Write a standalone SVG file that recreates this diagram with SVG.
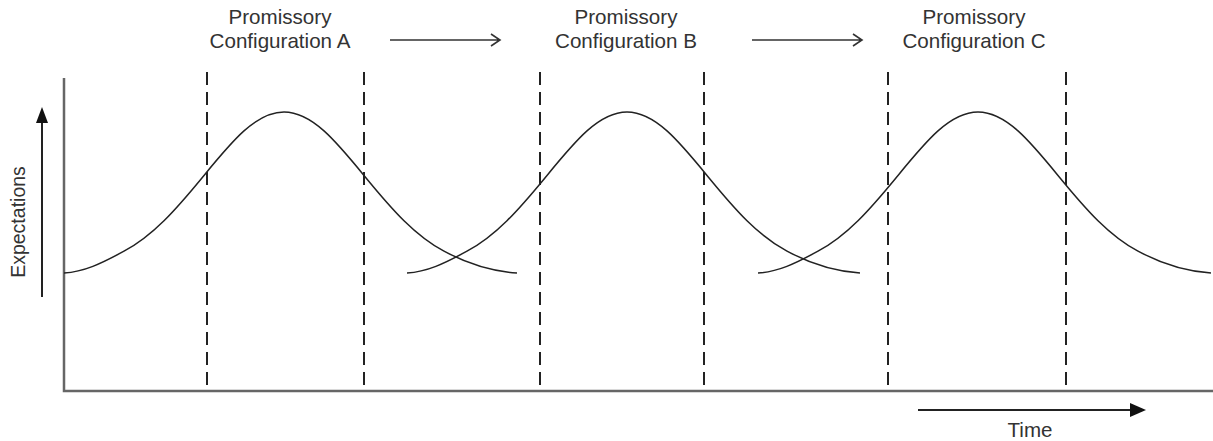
<svg xmlns="http://www.w3.org/2000/svg" width="1213" height="441" viewBox="0 0 1213 441">
<style>
.t{font-family:"Liberation Sans",Arial,sans-serif;font-size:20.6px;fill:#333;text-anchor:middle}
.curve{fill:none;stroke:#222;stroke-width:1.5}
.dash{stroke:#222;stroke-width:2;stroke-dasharray:13 7}
.axis{stroke:#666;stroke-width:2.5;fill:none}
.arr{stroke:#333;stroke-width:1.6;fill:none}
</style>
<defs>
<path id="bell" d="M -220,273 C -200,271.8 -183,263.7 -160,251.2 C -130.8,235.3 -109.2,211 -80,175.4 C -52,141.2 -28,112 0,112 C 28,112 52,141.2 80,175.4 C 109.2,211 130.8,235.3 160,251.2 C 184,264 210,271.5 233,273"/>
</defs>
<rect width="1213" height="441" fill="#fff"/>
<g id="axes">
<path class="axis" d="M64,78 V391 H1213"/>
</g>
<g id="dashed-lines">
<line class="dash" x1="207" y1="72" x2="207" y2="391"/>
<line class="dash" x1="364" y1="72" x2="364" y2="391"/>
<line class="dash" x1="540" y1="72" x2="540" y2="391"/>
<line class="dash" x1="704" y1="72" x2="704" y2="391"/>
<line class="dash" x1="888" y1="72" x2="888" y2="391"/>
<line class="dash" x1="1066" y1="72" x2="1066" y2="391"/>
</g>
<g id="curve-a"><use href="#bell" class="curve" transform="translate(284,0)"/></g>
<g id="curve-b"><use href="#bell" class="curve" transform="translate(627,0)"/></g>
<g id="curve-c"><use href="#bell" class="curve" transform="translate(978,0)"/></g>
<g id="label-a">
<text class="t" x="280" y="24">Promissory</text>
<text class="t" x="280" y="48">Configuration A</text>
</g>
<g id="label-b">
<text class="t" x="626" y="24">Promissory</text>
<text class="t" x="626" y="48">Configuration B</text>
</g>
<g id="label-c">
<text class="t" x="974" y="24">Promissory</text>
<text class="t" x="974" y="48">Configuration C</text>
</g>
<g id="connectors">
<path class="arr" d="M390,40 H500 M491,34 L500,40 L491,46"/>
<path class="arr" d="M752,40 H862 M853,34 L862,40 L853,46"/>
</g>
<g id="y-label">
<line x1="42" y1="297" x2="42" y2="118" stroke="#222" stroke-width="2"/>
<polygon points="42,107 36,123 48,123" fill="#111"/>
<text class="t" style="font-size:19.5px" transform="translate(25,222) rotate(-90)">Expectations</text>
</g>
<g id="x-label">
<line x1="918" y1="410" x2="1130" y2="410" stroke="#222" stroke-width="2"/>
<polygon points="1146,410 1130,403 1130,417" fill="#111"/>
<text class="t" x="1030" y="437">Time</text>
</g>
</svg>
